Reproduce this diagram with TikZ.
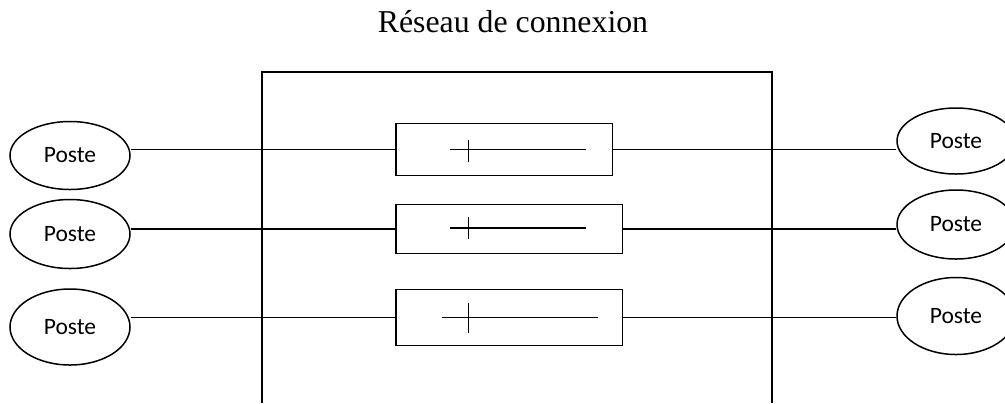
\documentclass[tikz,border=0pt]{standalone}
\usepackage{fontspec}
\setmainfont{Liberation Serif}
\newfontfamily\calibri{Carlito}
\usetikzlibrary{shapes.geometric}

\begin{document}
\begin{tikzpicture}[x=0.5pt, y=-0.5pt, line width=0.75pt,
    poste/.style={ellipse, draw, inner sep=0pt, minimum width=60pt,
    font=\calibri\fontsize{11.75}{14}\selectfont},
    switchbox/.style={rectangle, draw, inner sep=0pt}]

  \useasboundingbox (0,0) rectangle (1005,403);
  \node[anchor=base, font=\fontsize{15.9}{19}\selectfont] (titre) at (513,32.7) {Réseau de connexion};

  % reseau (ouvert en bas)
  \draw (262,403) -- (262,72) -- (772,72) -- (772,403);

  \node[poste, minimum height=34pt] (L1) at (70,155.5) {Poste};
  \node[poste, minimum height=34.5pt] (L2) at (70,234) {Poste};
  \node[poste, minimum height=38pt] (L3) at (70,327) {Poste};
  \node[poste, minimum width=59pt, minimum height=33pt] (R1) at (956,141) {Poste};
  \node[poste, minimum width=59pt, minimum height=34.5pt] (R2) at (956,224.5) {Poste};
  \node[poste, minimum width=59pt, minimum height=38.5pt] (R3) at (956,316) {Poste};

  \node[switchbox, minimum width=108.3pt, minimum height=25.8pt] (S1) at (504.3,149.5) {};
  \node[switchbox, minimum width=113.2pt, minimum height=24.5pt] (S2) at (509.2,229) {};
  \node[switchbox, minimum width=113.2pt, minimum height=27.8pt] (S3) at (509.2,317.5) {};

  % interrupteurs
  \draw (450,149.5) -- (585.7,149.5);
  \draw (468.7,139.5) -- (468.7,162);
  \draw (450,228) -- (585.7,228);
  \draw (468.7,216.7) -- (468.7,239.3);
  \draw (441.7,317.3) -- (598.3,317.3);
  \draw (468.7,302.7) -- (468.7,333.3);

  \draw (L1.east |- S1.west) -- (S1.west);
  \draw (L2.east |- S2.west) -- (S2.west);
  \draw (L3.east |- S3.west) -- (S3.west);
  \draw (S1.east) -- (S1.east -| R1.west);
  \draw (S2.east) -- (S2.east -| R2.west);
  \draw (S3.east) -- (S3.east -| R3.west);
\end{tikzpicture}
\end{document}
